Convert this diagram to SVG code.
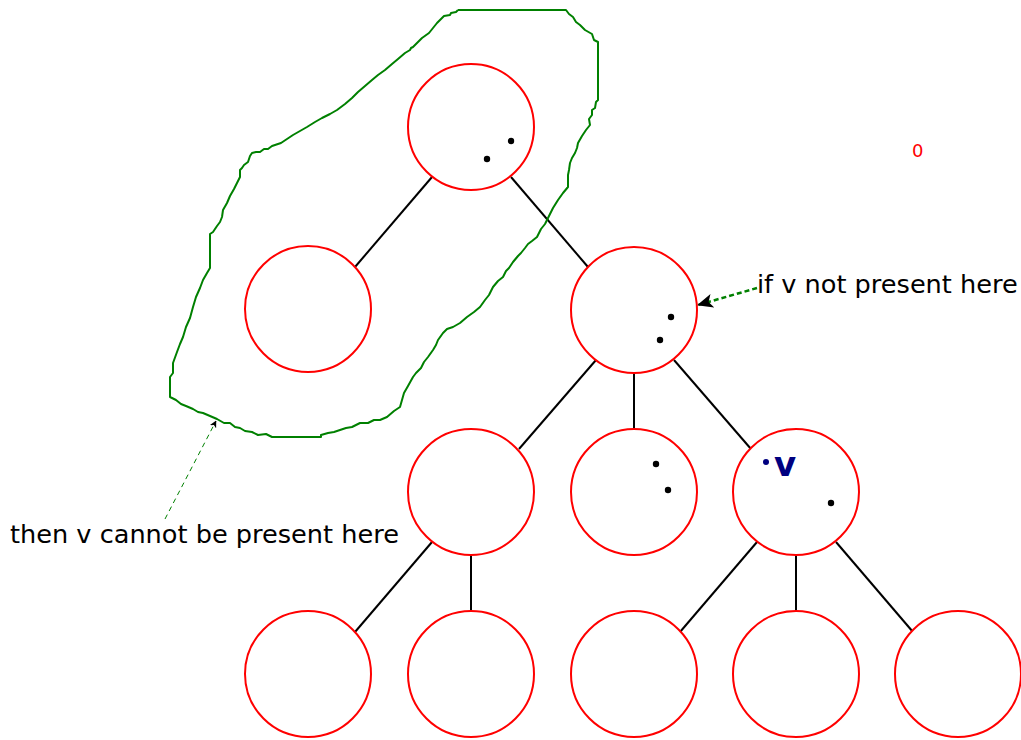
<svg xmlns="http://www.w3.org/2000/svg" width="1021" height="740" viewBox="0 0 1021 740">
  <style>
    .node { fill: #fff; stroke: #f00; stroke-width: 2; }
    .edge { stroke: #000; stroke-width: 2; fill: none; }
    .dot { fill: #000; }
    .label { font-family: "DejaVu Sans", sans-serif; font-size: 25.6px; fill: #000; }
  </style>
  <defs>
    <marker id="arrowBig" markerWidth="16" markerHeight="14" refX="15" refY="7" orient="auto" markerUnits="userSpaceOnUse">
      <path d="M0,0 L16,7 L0,14 L4,7 Z" fill="#000"/>
    </marker>
    <marker id="arrowSmall" markerWidth="7" markerHeight="7" refX="6.5" refY="3.5" orient="auto" markerUnits="userSpaceOnUse">
      <path d="M0,0 L7,3.5 L0,7 L2,3.5 Z" fill="#000"/>
    </marker>
  </defs>
  <rect width="1021" height="740" fill="#fff"/>

  <!-- tree edges -->
  <g id="connectors">
    <line class="edge" x1="432" y1="177" x2="355" y2="267"/>
    <line class="edge" x1="511" y1="177" x2="588" y2="267"/>
    <line class="edge" x1="596" y1="360" x2="519" y2="449"/>
    <line class="edge" x1="634" y1="373" x2="634" y2="429"/>
    <line class="edge" x1="674" y1="360" x2="751" y2="449"/>
    <line class="edge" x1="432" y1="542" x2="355" y2="632"/>
    <line class="edge" x1="471" y1="555" x2="471" y2="611"/>
    <line class="edge" x1="757" y1="542" x2="680" y2="632"/>
    <line class="edge" x1="796" y1="555" x2="796" y2="611"/>
    <line class="edge" x1="836" y1="542" x2="913" y2="632"/>
    <!-- annotation arrows -->
    <line x1="757" y1="288" x2="698" y2="305" stroke="#008000" stroke-width="2.5" stroke-dasharray="5,3" marker-end="url(#arrowBig)"/>
    <line x1="165" y1="519" x2="216" y2="421" stroke="#008000" stroke-width="1" stroke-dasharray="5,4" marker-end="url(#arrowSmall)"/>
  </g>

  <!-- freehand outline around root and left subtree -->
  <g id="outline">
    <polyline fill="none" stroke="#008000" stroke-width="2" stroke-linejoin="round" points="458,10 566,10 569,14 573,17 576,22 580,25 585,30 592,34 594,40 598,42 598,100 596,102 595,108 592,110 592,115 589,119 590,125 586,130 582,136 578,143 577,148 575,153 572,158 570,163 569,170 568,175 568,180 568,187 563,193 558,200 553,208 548,218 545,224 541,229 537,237 532,241 528,244 525,248 521,253 518,256 513,262 509,268 506,271 503,277 498,281 493,287 489,295 485,300 480,307 474,312 467,317 460,323 453,327 447,329 443,333 438,340 436,345 433,350 428,357 424,362 421,368 416,373 413,377 408,386 404,393 402,400 400,407 394,411 387,417 380,420 374,420 368,423 360,423 352,427 346,428 340,430 334,432 328,433 321,435 321,437 272,437 266,434 258,435 252,432 245,431 240,428 235,427 230,423 224,423 217,419 210,416 203,413 198,412 193,409 186,406 181,404 176,400 170,397 170,380 170,377 173,373 173,363 177,352 180,344 183,337 186,327 190,318 193,307 196,297 200,288 203,280 207,273 210,268 210,234 213,232 217,226 220,222 222,217 223,210 227,203 230,196 234,189 237,183 240,177 240,170 242,168 244,165 248,162 250,156 252,153 256,152 260,152 264,149 268,149 272,146 275,145 281,143 287,139 293,135 300,131 307,127 315,122 322,118 330,114 337,110 345,104 352,98 358,92 365,86 372,80 378,75 385,70 392,64 398,59 405,53 410,50 411,48 413,47 418,42 422,38 429,33 433,28 437,23 441,19 444,16 450,15 451,13 456,12 457,11 458,10"/>
  </g>

  <!-- nodes -->
  <g id="n-root">
    <circle class="node" cx="471" cy="127" r="63"/>
    <circle class="dot" cx="511" cy="141" r="3.2"/>
    <circle class="dot" cx="487" cy="159" r="3.2"/>
  </g>
  <g id="n-l">
    <circle class="node" cx="308" cy="309" r="63"/>
  </g>
  <g id="n-r">
    <circle class="node" cx="634" cy="310" r="63"/>
    <circle class="dot" cx="671" cy="317" r="3.2"/>
    <circle class="dot" cx="660" cy="340" r="3.2"/>
  </g>
  <g id="n-rl">
    <circle class="node" cx="471" cy="492" r="63"/>
  </g>
  <g id="n-rm">
    <circle class="node" cx="634" cy="492" r="63"/>
    <circle class="dot" cx="656" cy="464" r="3.2"/>
    <circle class="dot" cx="668" cy="490" r="3.2"/>
  </g>
  <g id="n-rr">
    <circle class="node" cx="796" cy="492" r="63"/>
    <circle cx="766" cy="462" r="3" fill="#000080"/>
    <text x="774" y="476" font-family="DejaVu Sans, sans-serif" font-size="34" font-weight="bold" fill="#000080">v</text>
    <circle class="dot" cx="831" cy="503" r="3.2"/>
  </g>
  <g id="n-rll">
    <circle class="node" cx="308" cy="674" r="63"/>
  </g>
  <g id="n-rlm">
    <circle class="node" cx="471" cy="674" r="63"/>
  </g>
  <g id="n-rrl">
    <circle class="node" cx="634" cy="674" r="63"/>
  </g>
  <g id="n-rrm">
    <circle class="node" cx="796" cy="674" r="63"/>
  </g>
  <g id="n-rrr">
    <circle class="node" cx="958" cy="674" r="63"/>
  </g>

  <!-- labels -->
  <text class="label" x="757" y="293">if v not present here</text>
  <text class="label" x="10" y="543">then v cannot be present here</text>
  <text x="912" y="157" font-family="DejaVu Sans, sans-serif" font-size="18" fill="#f00">0</text>
</svg>
